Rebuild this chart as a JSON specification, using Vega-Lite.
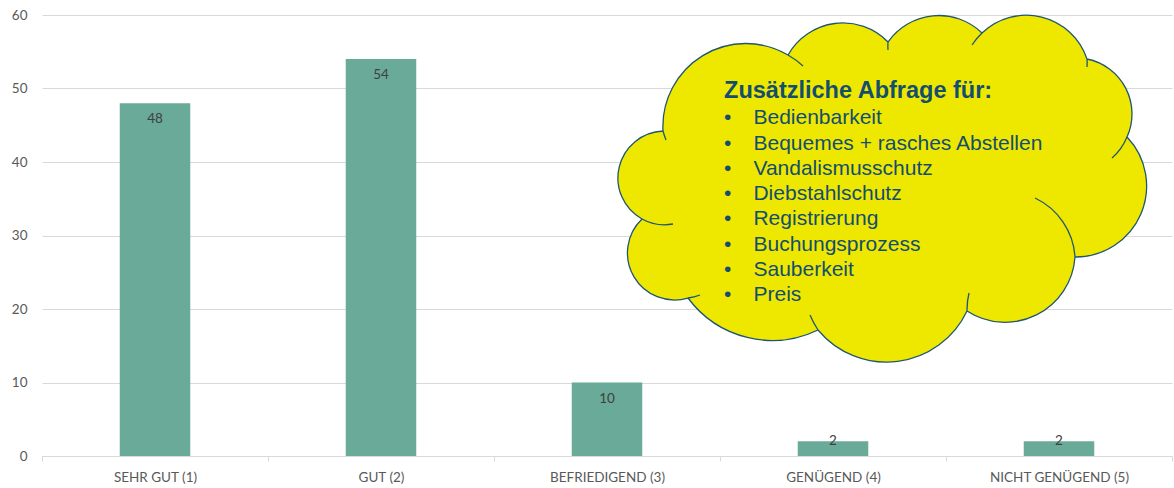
{
  "$schema": "https://vega.github.io/schema/vega-lite/v6.json",
  "width": 1130,
  "height": 441,
  "autosize": {"type": "none"},
  "padding": {"left": 42, "top": 15, "right": 2, "bottom": 32},
  "background": "white",
  "config": {"view": {"stroke": null}, "font": "Lato"},
  "layer": [
    {
      "data": {
        "values": [
          {"rating": "SEHR GUT (1)", "count": 48},
          {"rating": "GUT (2)", "count": 54},
          {"rating": "BEFRIEDIGEND (3)", "count": 10},
          {"rating": "GENÜGEND (4)", "count": 2},
          {"rating": "NICHT GENÜGEND (5)", "count": 2}
        ]
      },
      "layer": [
        {
          "mark": {"type": "bar", "color": "#69aa98", "width": {"band": 0.312}},
          "encoding": {
            "x": {
              "field": "rating", "type": "nominal", "sort": null,
              "scale": {"paddingInner": 0, "paddingOuter": 0},
              "axis": {
                "title": null, "labelAngle": 0, "labelFont": "Lato", "labelFontSize": 13.5,
                "labelColor": "#595959", "tickBand": "extent", "ticks": true, "tickSize": 5,
                "tickColor": "#d9d9d9", "domainColor": "#d9d9d9", "grid": false,
                "labelPadding": 16, "labelBaseline": "middle"
              }
            },
            "y": {
              "field": "count", "type": "quantitative",
              "scale": {"domain": [0, 60], "nice": false},
              "axis": {
                "title": null, "values": [0, 10, 20, 30, 40, 50, 60], "domain": false, "ticks": false,
                "grid": true, "gridColor": "#d9d9d9", "labelFont": "Lato", "labelFontSize": 13.5,
                "labelColor": "#595959", "labelPadding": 15
              }
            }
          }
        },
        {
          "transform": [{"filter": "datum.count > 5"}],
          "mark": {"type": "text", "dy": 16, "baseline": "middle", "font": "Lato", "fontSize": 13.5, "color": "#404040"},
          "encoding": {
            "x": {"field": "rating", "type": "nominal", "sort": null},
            "y": {"field": "count", "type": "quantitative"},
            "text": {"field": "count", "type": "quantitative"}
          }
        },
        {
          "transform": [{"filter": "datum.count <= 5"}],
          "mark": {"type": "text", "dy": 0, "baseline": "middle", "font": "Lato", "fontSize": 13.5, "color": "#404040"},
          "encoding": {
            "x": {"field": "rating", "type": "nominal", "sort": null},
            "y": {"field": "count", "type": "quantitative"},
            "text": {"field": "count", "type": "quantitative"}
          }
        }
      ]
    },
    {
      "data": {"values": [{}]},
      "layer": [
        {
          "mark": {
            "type": "point",
            "shape": "M -217 -59 A 83 83 0 0 1 -92 -135 A 63 63 0 0 1 8 -148 A 62 62 0 0 1 102 -157 A 64 64 0 0 1 207 -131 A 56 56 0 0 1 247 -53 A 71 71 0 0 1 195 67 A 70 70 0 0 1 87 121 A 89 89 0 0 1 -62 140 A 105 105 0 0 1 -192 108 A 47 47 0 0 1 -238 29 A 47 47 0 0 1 -217 -59 Z M -214 -50 A 83 83 0 0 1 -217 -59 M -92 -135 A 83 83 0 0 1 -77 -124 M 8 -140 A 62 62 0 0 1 8 -148 M 92 -145 A 64 64 0 0 1 102 -157 M 207 -131 A 64 64 0 0 1 207 -123 M 247 -53 A 56 56 0 0 1 232 -32 M 155 8 A 70 70 0 0 1 195 67 M 87 121 A 70 70 0 0 1 89 103 M -62 140 A 89 89 0 0 1 -70 125 M -180 105 A 47 47 0 0 1 -192 108 M -207 34 A 47 47 0 0 1 -238 29",
            "size": 4,
            "filled": true,
            "fill": "#eee800",
            "stroke": "#1f5673",
            "strokeWidth": 1.3,
            "opacity": 1
          },
          "encoding": {
            "x": {"datum": 3.708, "type": "quantitative", "scale": {"domain": [0, 5], "nice": false, "zero": false}, "axis": null},
            "y": {"datum": 36.19, "type": "quantitative"}
          }
        },
        {
          "mark": {
            "type": "text", "text": "Zusätzliche Abfrage für:", "font": "Liberation Sans", "fontWeight": "bold",
            "fontSize": 23.5, "color": "#134e6f", "align": "left", "baseline": "alphabetic"
          },
          "encoding": {
            "x": {"datum": 3.018, "type": "quantitative", "scale": {"domain": [0, 5], "nice": false, "zero": false}, "axis": null},
            "y": {"datum": 48.64, "type": "quantitative"}
          }
        },
        {
          "mark": {
            "type": "text", "text": ["•", "•", "•", "•", "•", "•", "•", "•"], "font": "Liberation Sans",
            "fontSize": 21, "lineHeight": 25.3, "color": "#134e6f", "align": "left", "baseline": "alphabetic"
          },
          "encoding": {
            "x": {"datum": 3.018, "type": "quantitative", "scale": {"domain": [0, 5], "nice": false, "zero": false}, "axis": null},
            "y": {"datum": 45.13, "type": "quantitative"}
          }
        },
        {
          "mark": {
            "type": "text",
            "text": ["Bedienbarkeit", "Bequemes + rasches Abstellen", "Vandalismusschutz", "Diebstahlschutz", "Registrierung", "Buchungsprozess", "Sauberkeit", "Preis"],
            "font": "Liberation Sans", "fontSize": 21, "lineHeight": 25.3, "color": "#134e6f",
            "align": "left", "baseline": "alphabetic"
          },
          "encoding": {
            "x": {"datum": 3.148, "type": "quantitative", "scale": {"domain": [0, 5], "nice": false, "zero": false}, "axis": null},
            "y": {"datum": 45.13, "type": "quantitative"}
          }
        }
      ]
    }
  ],
  "resolve": {"scale": {"x": "independent"}}
}
